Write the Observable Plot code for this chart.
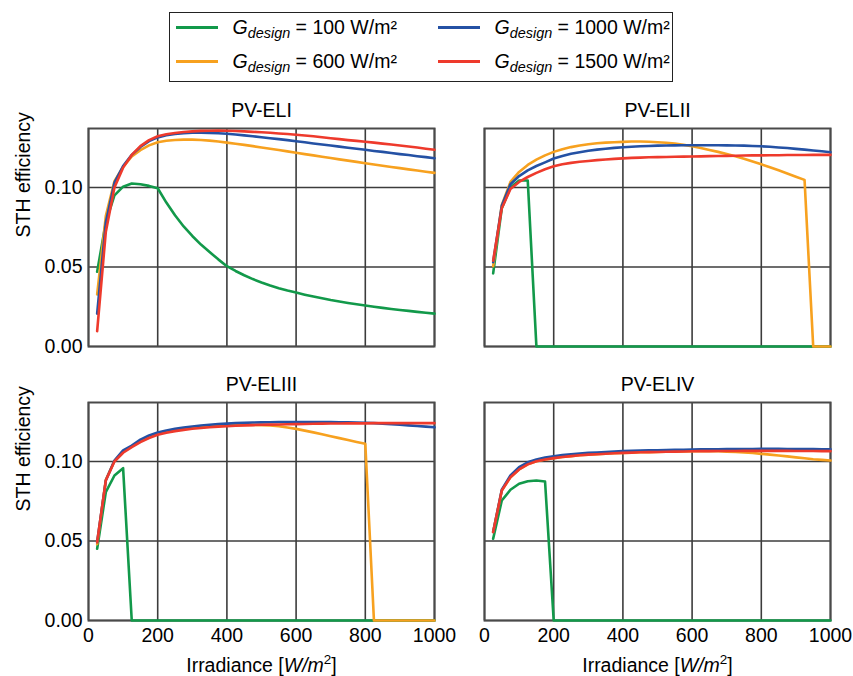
<!DOCTYPE html>
<html>
<head>
<meta charset="utf-8">
<script src="https://cdn.jsdelivr.net/npm/d3@7"></script>
<script src="https://cdn.jsdelivr.net/npm/@observablehq/plot@0.6"></script>
<style>
  html, body { margin: 0; padding: 0; background: #fff; }
  body { width: 853px; height: 676px; overflow: hidden; font-family: "Liberation Sans", Arial, sans-serif; color: #000; }
  #legendWrap { position: relative; height: 88px; width: 853px; }
  #legendBox { position: absolute; left: 169px; top: 12px; width: 504px; height: 70px; border: 1.5px solid #222; box-sizing: border-box; }
  .item { position: absolute; height: 30px; line-height: 30px; font-size: 19.5px; white-space: nowrap; }
  .swatch { position: absolute; width: 42px; height: 3px; top: 14px; left: 0; }
  .lab { position: absolute; left: 57px; top: 0; }
  .lab sub { font-size: 0.74em; vertical-align: -0.3em; line-height: 0; }
  #chart svg { display: block; overflow: visible; }
</style>
</head>
<body>
<div id="legendWrap"><div id="legendBox"></div></div>
<div id="chart"></div>
<script>
// ---------------- data ----------------
const panels = ["PV-ELI", "PV-ELII", "PV-ELIII", "PV-ELIV"];
const designValues = ["100", "600", "1000", "1500"];
const seriesColors = ["#12994a", "#f7a11f", "#2451a4", "#ee3a2c"];
const xTicks = [0, 200, 400, 600, 800, 1000];
const yTicks = [0, 0.05, 0.10];
const yLabel = "STH efficiency";
const xLabel = "Irradiance [W/m2]";

const irradiance = [25,50,75,100,125,150,175,200,225,250,275,300,325,350,375,400,425,450,475,500,
  525,550,575,600,625,650,675,700,725,750,775,800,825,850,875,900,925,950,975,1000];

// PV-ELI
const eli_100 = [0.047,0.078,0.095,0.1005,0.1025,0.102,0.101,0.0995,0.0905,0.0825,0.0755,0.0695,0.0641,0.0594,0.0548,0.0505,0.0475,0.0448,0.0424,0.0403,
  0.0384,0.0367,0.0352,0.0339,0.0326,0.0314,0.0303,0.0292,0.0283,0.0274,0.0266,0.0258,0.0250,0.0243,0.0236,0.0230,0.0224,0.0218,0.0212,0.0207];
const eli_600 = [0.0327,0.082,0.104,0.113,0.1195,0.1235,0.1265,0.1285,0.1294,0.1299,0.1301,0.1301,0.1299,0.1295,0.1289,0.1282,0.1275,0.1268,0.126,0.1252,
  0.1244,0.1236,0.1227,0.1218,0.121,0.1202,0.1193,0.1185,0.1177,0.1169,0.1161,0.1153,0.1145,0.1137,0.1129,0.1122,0.1114,0.1107,0.1099,0.1092];
const eli_1000 = [0.0206,0.078,0.103,0.1135,0.1205,0.1255,0.1292,0.1315,0.1328,0.1336,0.1341,0.1344,0.1344,0.1343,0.1341,0.1338,0.1333,0.1328,0.1322,0.1316,
  0.131,0.1304,0.1298,0.1291,0.1284,0.1277,0.127,0.1264,0.1257,0.125,0.1244,0.1237,0.123,0.1224,0.1217,0.121,0.1204,0.1197,0.1191,0.1184];
const eli_1500 = [0.0096,0.072,0.100,0.1125,0.1205,0.126,0.1298,0.1322,0.1335,0.1343,0.1349,0.1353,0.1356,0.1357,0.1358,0.1357,0.1355,0.1353,0.135,0.1347,
  0.1344,0.134,0.1336,0.1332,0.1327,0.1322,0.1316,0.131,0.1304,0.1298,0.1293,0.1288,0.1282,0.1276,0.127,0.1264,0.1258,0.1251,0.1244,0.1237];

// PV-ELII
const elii_100 = [0.046,0.087,0.100,0.1044,0.1044,0,0,0,0,0,0,0,0,0,0,0,0,0,0,0,
  0,0,0,0,0,0,0,0,0,0,0,0,0,0,0,0,0,0,0,0];
const elii_600 = [0.0505,0.089,0.1035,0.1098,0.1142,0.1175,0.1202,0.1224,0.1241,0.1254,0.1264,0.1272,0.1278,0.1282,0.1285,0.1287,0.1289,0.1289,0.1288,0.1285,
  0.1281,0.1276,0.1268,0.1259,0.1248,0.1236,0.1224,0.121,0.1196,0.1181,0.1164,0.1146,0.1127,0.1108,0.1088,0.1068,0.1048,0,0,0];
const elii_1000 = [0.053,0.0885,0.102,0.1072,0.1108,0.1135,0.1158,0.1182,0.1198,0.1212,0.1222,0.1231,0.1238,0.1244,0.1249,0.1253,0.1256,0.1259,0.1261,0.1263,
  0.1264,0.1265,0.1266,0.1266,0.1266,0.1266,0.1266,0.1265,0.1264,0.1263,0.1261,0.1259,0.1256,0.1252,0.1248,0.1243,0.1238,0.1233,0.1228,0.1222];
const elii_1500 = [0.054,0.087,0.099,0.1035,0.1066,0.1092,0.1115,0.1133,0.1146,0.1155,0.1162,0.1167,0.1172,0.1176,0.118,0.1183,0.1186,0.1188,0.119,0.1191,
  0.1192,0.1193,0.1194,0.1195,0.1196,0.1197,0.1198,0.1199,0.12,0.1201,0.1202,0.1202,0.1203,0.1203,0.1204,0.1204,0.1204,0.1205,0.1205,0.1205];

// PV-ELIII
const eliii_100 = [0.0451,0.0807,0.0912,0.0958,0,0,0,0,0,0,0,0,0,0,0,0,0,0,0,0,
  0,0,0,0,0,0,0,0,0,0,0,0,0,0,0,0,0,0,0,0];
const eliii_600 = [0.048,0.0885,0.1003,0.1062,0.1095,0.1128,0.1155,0.1174,0.1187,0.1197,0.1205,0.1212,0.1217,0.1221,0.1224,0.1227,0.1229,0.123,0.123,0.1229,
  0.1227,0.1222,0.1214,0.1205,0.1194,0.1183,0.1171,0.1159,0.1147,0.1135,0.1123,0.1111,0,0,0,0,0,0,0,0];
const eliii_1000 = [0.0493,0.088,0.1006,0.107,0.1100,0.1138,0.1164,0.1182,0.1195,0.1205,0.1213,0.122,0.1226,0.1231,0.1235,0.1238,0.1241,0.1243,0.1245,0.1246,
  0.1247,0.1248,0.1248,0.1248,0.1248,0.1248,0.1248,0.1248,0.1247,0.1246,0.1245,0.1244,0.1241,0.1238,0.1235,0.1231,0.1227,0.1223,0.1219,0.1215];
const eliii_1500 = [0.0493,0.088,0.1,0.1055,0.109,0.1122,0.1148,0.1168,0.1181,0.1191,0.1199,0.1206,0.1211,0.1215,0.1219,0.1222,0.1225,0.1227,0.1229,0.1231,
  0.1232,0.1233,0.1234,0.1235,0.1236,0.1237,0.1238,0.1239,0.1239,0.124,0.124,0.124,0.1241,0.1241,0.1241,0.1241,0.1241,0.1241,0.1241,0.1241];

// PV-ELIV
const eliv_100 = [0.0514,0.0755,0.0822,0.086,0.0876,0.088,0.0874,0,0,0,0,0,0,0,0,0,0,0,0,0,
  0,0,0,0,0,0,0,0,0,0,0,0,0,0,0,0,0,0,0,0];
const eliv_600 = [0.0556,0.0818,0.0901,0.095,0.0982,0.1002,0.1013,0.1021,0.1028,0.1034,0.1039,0.1043,0.1046,0.1049,0.1052,0.1054,0.1056,0.1058,0.1059,0.106,
  0.1061,0.1062,0.1063,0.1064,0.1065,0.1065,0.1064,0.1062,0.106,0.1057,0.1053,0.1048,0.1043,0.1038,0.1032,0.1026,0.102,0.1014,0.101,0.1006];
const eliv_1000 = [0.0556,0.0822,0.0912,0.0964,0.0995,0.1013,0.1025,0.1033,0.104,0.1046,0.105,0.1054,0.1057,0.106,0.1063,0.1065,0.1067,0.1069,0.107,0.1071,
  0.1072,0.1073,0.1074,0.1075,0.1076,0.1077,0.1077,0.1078,0.1078,0.1079,0.1079,0.108,0.108,0.108,0.1079,0.1079,0.1078,0.1078,0.1077,0.1077];
const eliv_1500 = [0.0556,0.0818,0.0901,0.095,0.0982,0.1002,0.1013,0.1021,0.1028,0.1034,0.1039,0.1043,0.1046,0.1049,0.1052,0.1054,0.1056,0.1058,0.1059,0.106,
  0.1061,0.1062,0.1063,0.1064,0.1065,0.1065,0.1066,0.1066,0.1066,0.1067,0.1067,0.1067,0.1067,0.1067,0.1067,0.1066,0.1066,0.1066,0.1065,0.1065];

// ---------------- table ----------------
const seriesByPanel = [
  [eli_100, eli_600, eli_1000, eli_1500],
  [elii_100, elii_600, elii_1000, elii_1500],
  [eliii_100, eliii_600, eliii_1000, eliii_1500],
  [eliv_100, eliv_600, eliv_1000, eliv_1500]
];
const rows = [];
panels.forEach((p, pi) => {
  seriesByPanel[pi].forEach((arr, si) => {
    arr.forEach((v, k) => rows.push({panel: p, col: pi % 2, row: Math.floor(pi / 2), si, series: designValues[si], G: irradiance[k], eff: v}));
  });
});

// ---------------- legend ----------------
const box = document.getElementById("legendBox");
const legendPos = [[5.5, -1], [5.5, 33], [267.5, -1], [267.5, 33]];
designValues.forEach((v, i) => {
  const it = document.createElement("div");
  it.className = "item";
  it.style.left = legendPos[i][0] + "px";
  it.style.top = legendPos[i][1] + "px";
  it.innerHTML = `<div class="swatch" style="background:${seriesColors[i]}"></div>` +
    `<span class="lab"><i>G</i><sub><i>design</i></sub> = ${v} W/m²</span>`;
  box.appendChild(it);
});

// ---------------- plot ----------------
const lineMarks = designValues.map((v, si) =>
  Plot.line(rows.filter(d => d.si === si), {
    x: "G", y: "eff", fx: "col", fy: "row", z: "panel",
    stroke: "series", strokeWidth: 2.6, strokeLinejoin: "round"
  })
);

const svg = Plot.plot({
  width: 853,
  height: 588,
  marginTop: 40,
  marginLeft: 88,
  marginRight: 22,
  marginBottom: 56,
  style: {fontFamily: "'Liberation Sans', Arial, sans-serif", fontSize: "19.5px", color: "#000", background: "#fff"},
  fx: {axis: null, paddingInner: 0.1261, paddingOuter: 0},
  fy: {axis: null, paddingInner: 0.2044, paddingOuter: 0},
  x: {domain: [0, 1000]},
  y: {domain: [0, 0.1371]},
  color: {domain: designValues, range: seriesColors},
  marks: [
    Plot.gridX({ticks: xTicks, stroke: "#3c3c3c", strokeOpacity: 1, strokeWidth: 1.6}),
    Plot.gridY({ticks: yTicks, stroke: "#3c3c3c", strokeOpacity: 1, strokeWidth: 1.6}),
    Plot.frame({stroke: "#4a4a4a", strokeWidth: 2}),
    ...lineMarks,
    Plot.axisX({ticks: xTicks, tickSize: 0, tickPadding: 8, tickFormat: d => String(d), label: null, fontSize: 19.5}),
    Plot.axisY({ticks: yTicks, tickSize: 0, tickPadding: 6, tickFormat: ".2f", label: null, fontSize: 19.5}),
    Plot.text(panels, {fx: (d, i) => i % 2, fy: (d, i) => Math.floor(i / 2), text: d => d, frameAnchor: "top", lineAnchor: "middle", dy: -18, fontSize: 19.5}),
    Plot.text([0, 1], {fx: () => 0, fy: d => d, text: () => yLabel, frameAnchor: "left", lineAnchor: "middle", rotate: -90, dx: -65, fontSize: 19.5}),
    Plot.text([0, 1], {fx: d => d, fy: () => 1, text: () => xLabel, frameAnchor: "bottom", lineAnchor: "middle", dy: 45, fontSize: 19.5})
  ]
});
document.getElementById("chart").appendChild(svg);

// italic math part of the x-axis label
const NS = "http://www.w3.org/2000/svg";
svg.querySelectorAll("text").forEach(t => {
  if (t.textContent === xLabel) {
    t.textContent = "";
    const parts = [["Irradiance [", {}], ["W/m", {"font-style": "italic"}], ["2", {"font-size": "13.5px", "dy": "-8"}], ["]", {"dy": "8"}]];
    parts.forEach(([s, attrs]) => {
      const ts = document.createElementNS(NS, "tspan");
      ts.textContent = s;
      for (const k in attrs) ts.setAttribute(k, attrs[k]);
      t.appendChild(ts);
    });
  }
});
</script>
</body>
</html>
